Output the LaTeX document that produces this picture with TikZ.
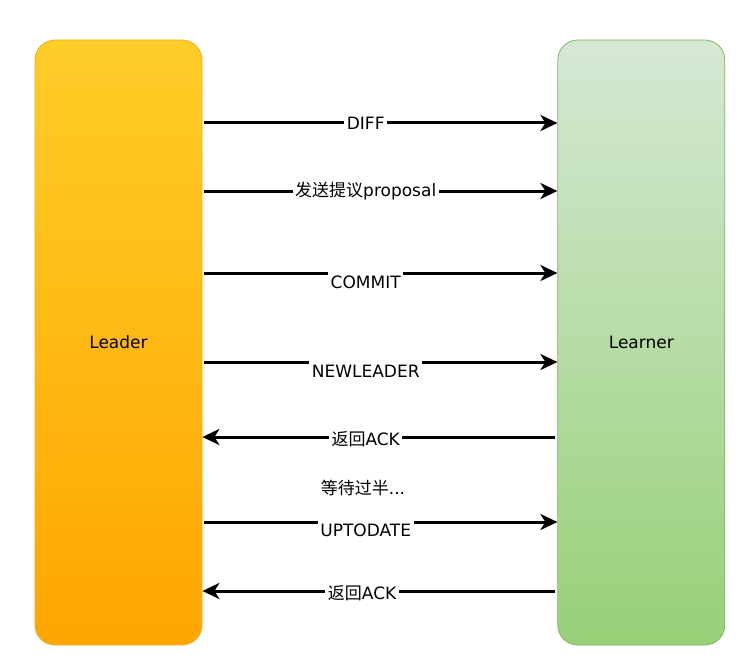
\documentclass[tikz,border=0pt]{standalone}
\usepackage{fontspec}
\setmainfont{DejaVu Sans}
\newfontfamily\cjk{Noto Sans CJK SC}
\usetikzlibrary{arrows.meta, positioning}
\definecolor{leadertop}{HTML}{FFCD28}
\definecolor{leaderbot}{HTML}{FFA500}
\definecolor{leaderline}{HTML}{E8B020}
\definecolor{learnertop}{HTML}{D5E8D4}
\definecolor{learnerbot}{HTML}{97D077}
\definecolor{learnerline}{HTML}{82B366}

\begin{document}
\begin{tikzpicture}[
  x=1pt, y=-1pt,
  party/.style={draw, rounded corners=20pt, minimum width=167pt, minimum height=605pt,
    line width=0.8pt, font=\fontsize{17}{20}\selectfont},
  msg/.style={-{Stealth[length=17pt, width=16pt, inset=5pt]}, line width=3pt, shorten <=2pt},
  lbl/.style={fill=white, inner xsep=2.5pt, inner ysep=0pt, minimum height=22pt,
    font=\fontsize{17}{20}\selectfont}
]
\useasboundingbox (0,0) rectangle (739,666);

\node[party, top color=leadertop, bottom color=leaderbot, draw=leaderline] (leader) at (118.5,342.5) {Leader};
\node[party, top color=learnertop, bottom color=learnerbot, draw=learnerline, right=355pt of leader] (learner) {Learner};

% leader -> learner
\draw[msg] (leader.east |- 0,123) -- (learner.west |- 0,123) node[lbl, pos=.46] {DIFF};
\draw[msg] (leader.east |- 0,191) -- (learner.west |- 0,191) node[lbl, pos=.46] {{\cjk 发送提议}proposal};
\draw[msg] (leader.east |- 0,273) -- (learner.west |- 0,273) node[lbl, pos=.46, yshift=-9pt] {COMMIT};
\draw[msg] (leader.east |- 0,362) -- (learner.west |- 0,362) node[lbl, pos=.46, yshift=-9pt] {NEWLEADER};

% learner -> leader
\draw[msg] (learner.west |- 0,437) -- (leader.east |- 0,437) node[lbl, pos=.54, yshift=-2pt] {{\cjk 返回}ACK};

\node[lbl] (wait) at (363,488) {{\cjk 等待过半}...};

\draw[msg] (leader.east |- 0,522) -- (learner.west |- 0,522) node[lbl, pos=.46, yshift=-8pt] {UPTODATE};
\draw[msg] (learner.west |- 0,591) -- (leader.east |- 0,591) node[lbl, pos=.55, yshift=-2pt] {{\cjk 返回}ACK};
\end{tikzpicture}
\end{document}
